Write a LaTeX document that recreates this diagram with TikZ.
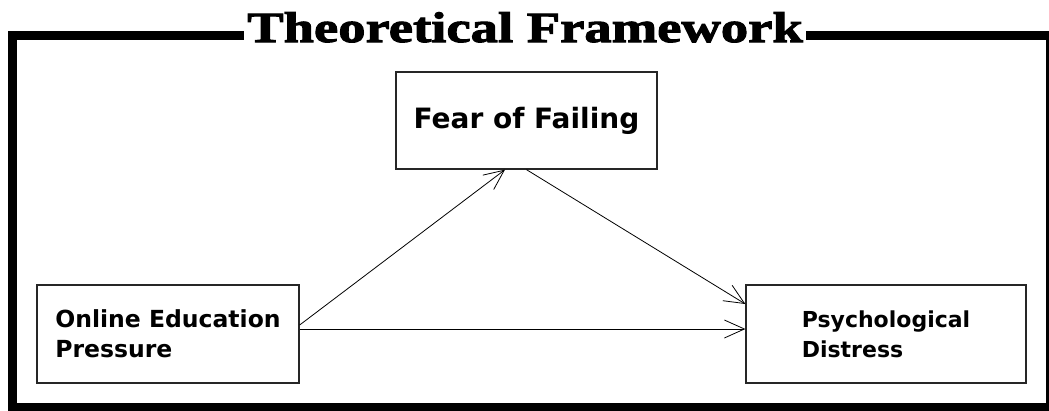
\documentclass[tikz,border=0pt]{standalone}
\usepackage{fontspec}
\usepackage{tikz}
\usetikzlibrary{arrows.meta, positioning}
\setsansfont{DejaVu Sans}
\newfontfamily\titlefont[FakeBold=2.5, FakeStretch=1.27]{Liberation Serif}

\begin{document}
\begin{tikzpicture}[
  x=1pt, y=-1pt,
  var/.style={rectangle, draw=black!85, line width=1.3pt, align=left, font=\sffamily\bfseries\fontsize{22}{30}\selectfont},
  arr/.style={-{Straight Barb[length=20pt, width=18pt]}, line width=0.8pt},
]
  \useasboundingbox (0,0) rectangle (1049,410);

  % Frame and title
  \draw[line width=9pt] (12.5,35.5) rectangle (1050.5,407.5);
  \node[fill=white, inner xsep=3pt, inner ysep=2pt, anchor=base, font=\titlefont\bfseries\fontsize{43}{43}\selectfont]
        (title) at (525,42) {Theoretical Framework};

  % Variables
  \node[var, minimum width=261pt, minimum height=97pt, font=\sffamily\bfseries\fontsize{28}{30}\selectfont]
        (fear) at (526.5,120.5) {Fear of Failing};
  \node[var, minimum width=262pt, minimum height=98pt, font=\sffamily\bfseries\fontsize{23.5}{30}\selectfont]
        (onl) at (168,334) {Online Education\\Pressure};
  \node[var, minimum width=280pt, minimum height=98pt] (psy) at (886,334) {Psychological\\Distress};

  % Paths
  \draw[arr] ([yshift=9pt]onl.east) -- ([xshift=-21.5pt]fear.south);
  \draw[arr] ([yshift=5pt]onl.east) -- ([yshift=5pt]psy.west);
  \draw[arr] (fear.south) -- ([yshift=30pt]psy.west);
\end{tikzpicture}
\end{document}
